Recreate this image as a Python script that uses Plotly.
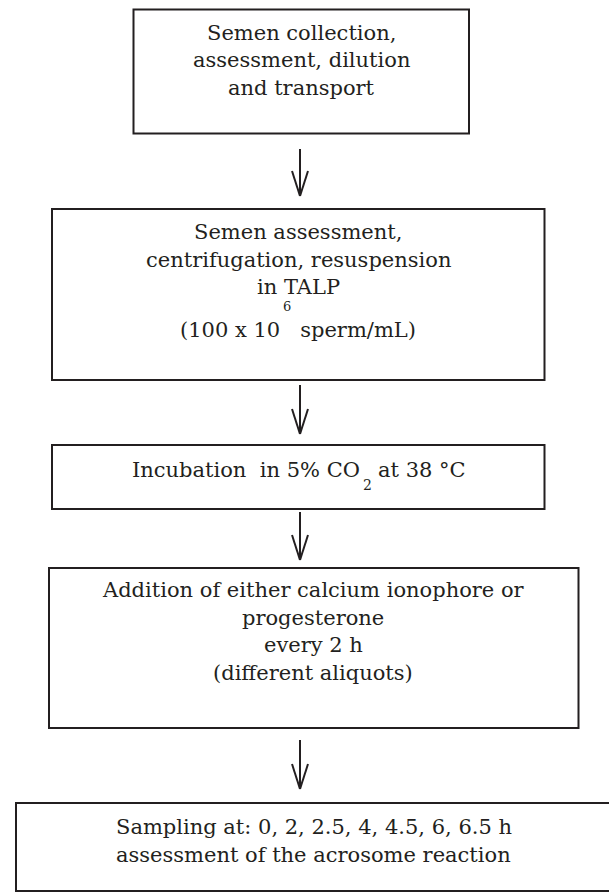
import plotly.graph_objects as go

# ---- content (texts) ----
box1_lines = ["Semen collection,", "assessment, dilution", "and transport"]
box2_lines = ["Semen assessment,", "centrifugation, resuspension", "in TALP", "(100 x 10   sperm/mL)"]
box2_sup = "6"
box3_parts = ["Incubation  in 5% CO", "2", "at 38 °C"]
box4_lines = ["Addition of either calcium ionophore or", "progesterone", "every 2 h", "(different aliquots)"]
box5_lines = ["Sampling at: 0, 2, 2.5, 4, 4.5, 6, 6.5 h", "assessment of the acrosome reaction"]

# ---- layout geometry (pixels, y downwards) ----
W, H = 609, 892
boxes = [(133.5, 9.5, 469, 133.5), (52, 209, 544.5, 380), (52, 445, 544.5, 509),
         (49, 568, 578.5, 728), (16, 803, 614, 891)]
arrows = [(300, 149, 196), (300, 385, 434), (300, 512, 560), (300, 740, 789)]
INK = "#231f20"
FONT = "DejaVu Serif"
FS = 21
BASE_SHIFT = 7  # baseline -> middle offset

fig = go.Figure()
shapes = []
for (x0, y0, x1, y1) in boxes:
    shapes.append(dict(type="rect", x0=x0, y0=y0, x1=x1, y1=y1, xref="x", yref="y",
                       line=dict(color=INK, width=2), fillcolor="rgba(0,0,0,0)"))
HEAD_L, HEAD_W = 25, 8
for (x, ya, yb) in arrows:
    shapes.append(dict(type="line", x0=x, y0=ya, x1=x, y1=yb, xref="x", yref="y",
                       line=dict(color=INK, width=2)))
    for s in (-1, 1):
        shapes.append(dict(type="line", x0=x + s * HEAD_W, y0=yb - HEAD_L, x1=x, y1=yb,
                           xref="x", yref="y", line=dict(color=INK, width=2)))

annotations = []


def add_lines(lines, xc, baselines):
    for t, b in zip(lines, baselines):
        annotations.append(dict(x=xc, y=b - BASE_SHIFT, text=t, showarrow=False,
                                xref="x", yref="y", xanchor="center", yanchor="middle",
                                font=dict(family=FONT, size=FS, color=INK)))


add_lines(box1_lines, 301, [40, 67, 95])
add_lines(box2_lines, 298, [239, 267, 294, 337])
annotations.append(dict(x=287, y=306, text=box2_sup, showarrow=False, xref="x", yref="y",
                        xanchor="center", yanchor="middle",
                        font=dict(family=FONT, size=13, color=INK)))
# box 3: text with lowered subscript
annotations.append(dict(x=362, y=477 - BASE_SHIFT, text=box3_parts[0], showarrow=False,
                        xref="x", yref="y", xanchor="right", yanchor="middle",
                        font=dict(family=FONT, size=FS, color=INK)))
annotations.append(dict(x=367, y=485, text=box3_parts[1], showarrow=False,
                        xref="x", yref="y", xanchor="center", yanchor="middle",
                        font=dict(family=FONT, size=14, color=INK)))
annotations.append(dict(x=376, y=477 - BASE_SHIFT, text=box3_parts[2], showarrow=False,
                        xref="x", yref="y", xanchor="left", yanchor="middle",
                        font=dict(family=FONT, size=FS, color=INK)))
add_lines(box4_lines, 313, [597, 625, 652, 680])
add_lines(box5_lines, 313.5, [834, 862])

fig.update_layout(
    width=W, height=H, margin=dict(l=0, r=0, t=0, b=0),
    paper_bgcolor="white", plot_bgcolor="white",
    shapes=shapes, annotations=annotations, showlegend=False,
    xaxis=dict(range=[0, W], visible=False, fixedrange=True),
    yaxis=dict(range=[H, 0], visible=False, fixedrange=True),
)
fig.write_html("out.html", config={"displayModeBar": False},
               post_script="document.body.style.margin='0';document.body.style.overflow='hidden';")
